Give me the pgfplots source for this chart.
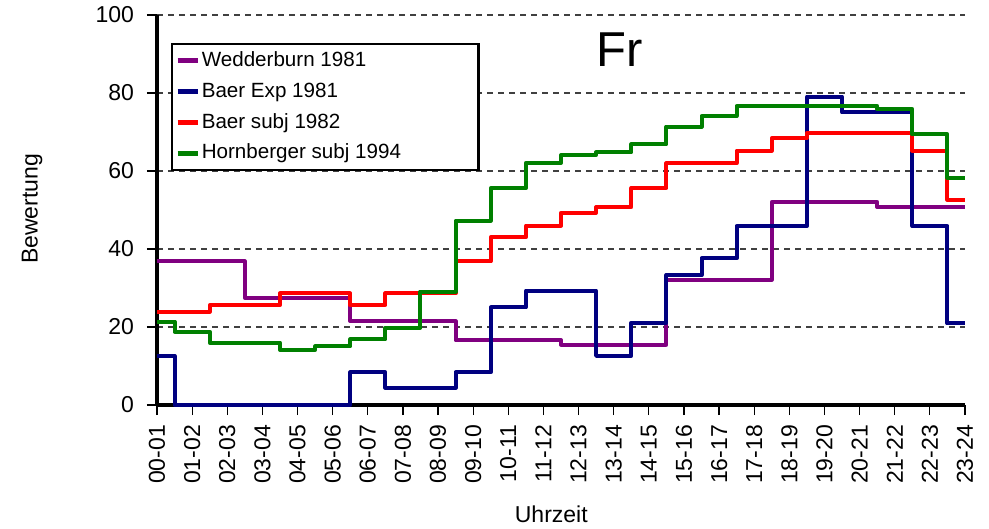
\documentclass[border=0pt]{standalone}
\usepackage{fontspec}
\setmainfont{Liberation Sans}
\usepackage{pgfplots}
\pgfplotsset{compat=1.18}

\definecolor{cWed}{RGB}{128,0,128}
\definecolor{cExp}{RGB}{0,0,128}
\definecolor{cSub}{RGB}{255,0,0}
\definecolor{cHor}{RGB}{0,128,0}

\newcommand{\tickfont}{\fontsize{11.5}{13}\selectfont}

\begin{document}
\begin{tikzpicture}
\begin{axis}[name=ax,
 width=404pt,height=195pt,scale only axis,
 xmin=0,xmax=23,ymin=0,ymax=100,
 axis x line*=bottom,axis y line*=left,
 axis line style={line width=2pt,-},
 xtick={0,...,23},
 xticklabels={00-01,01-02,02-03,03-04,04-05,05-06,06-07,07-08,08-09,09-10,10-11,11-12,12-13,13-14,14-15,15-16,16-17,17-18,18-19,19-20,20-21,21-22,22-23,23-24},
 ytick={0,20,...,100},
 tick align=outside,major tick length=5pt,
 tick style={black,line width=0.6pt},
 x tick label style={rotate=90,anchor=east,font=\tickfont,xshift=-1.5pt},
 y tick label style={font=\tickfont,xshift=-3pt},
 /pgf/number format/assume math mode=true,
 ymajorgrids=true,
 grid style={black!75,line width=0.6pt,dash pattern=on 3pt off 2.5pt},
 xlabel={Uhrzeit},ylabel={Bewertung},
 every axis x label/.style={at={(rel axis cs:0.488,0)},yshift=-54.5pt,anchor=center,font=\tickfont},
 every axis y label/.style={at={(rel axis cs:0,0.503)},xshift=-62.5pt,rotate=90,anchor=center,font=\tickfont},
 clip=false,
 legend cell align=left,
 legend image code/.code={\draw[#1,line width=2.5pt] (0pt,0pt) -- (10pt,0pt);},
 legend style={at={(rel axis cs:0.0173,0.928)},anchor=north west,draw=black,line width=1.2pt,
   font=\fontsize{10.3}{12}\selectfont,row sep=3.8pt,inner xsep=1.5pt,inner ysep=2.5pt,
   nodes={inner sep=0.8pt,text height=7.8pt,text depth=2.2pt}},
 every axis plot/.append style={line width=2pt,line join=round,const plot mark mid},
]
\addplot[cWed] coordinates {(0,36.8)(1,36.8)(2,36.8)(3,27.5)(4,27.5)(5,27.5)(6,21.5)(7,21.5)(8,21.5)(9,16.6)(10,16.6)(11,16.6)(12,15.5)(13,15.5)(14,15.5)(15,32.1)(16,32.1)(17,32.1)(18,52.1)(19,52.1)(20,52.1)(21,50.8)(22,50.8)(23,50.8)};
\addlegendentry{\makebox[136pt][l]{Wedderburn 1981}}
\addplot[cExp] coordinates {(0,12.6)(1,0)(2,0)(3,0)(4,0)(5,0)(6,8.4)(7,4.4)(8,4.4)(9,8.4)(10,25.0)(11,29.3)(12,29.3)(13,12.6)(14,21.1)(15,33.3)(16,37.6)(17,45.9)(18,45.9)(19,79.1)(20,75.0)(21,75.0)(22,45.9)(23,20.9)};
\addlegendentry{Baer Exp 1981}
\addplot[cSub] coordinates {(0,23.9)(1,23.9)(2,25.6)(3,25.6)(4,28.6)(5,28.6)(6,25.6)(7,28.6)(8,28.6)(9,36.8)(10,43.0)(11,46.0)(12,49.3)(13,50.7)(14,55.6)(15,62.0)(16,62.0)(17,65.2)(18,68.4)(19,69.8)(20,69.8)(21,69.8)(22,65.2)(23,52.6)};
\addlegendentry{Baer subj 1982}
\addplot[cHor] coordinates {(0,21.4)(1,18.8)(2,16.0)(3,16.0)(4,14.1)(5,15.0)(6,16.8)(7,19.8)(8,29.1)(9,47.3)(10,55.6)(11,62.1)(12,64.1)(13,64.8)(14,66.8)(15,71.4)(16,74.1)(17,76.7)(18,76.7)(19,76.7)(20,76.7)(21,75.9)(22,69.4)(23,58.3)};
\addlegendentry{Hornberger subj 1994}
\node[font=\fontsize{24.5}{28}\selectfont] at (rel axis cs:0.573,0.91) {Fr};
\end{axis}
\pgfresetboundingbox
\path[use as bounding box] ([shift={(-78.5pt,-62pt)}]ax.south west) rectangle ([shift={(12pt,7.5pt)}]ax.north east);
\end{tikzpicture}
\end{document}
